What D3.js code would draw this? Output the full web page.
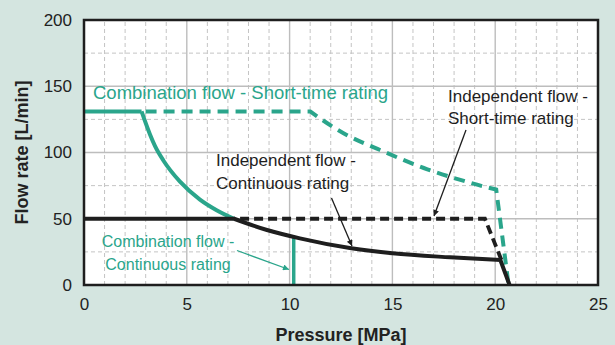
<!DOCTYPE html>
<html>
<head>
<meta charset="utf-8">
<script src="https://cdn.jsdelivr.net/npm/d3@7"></script>
<style>
  body { margin: 0; background: #d4e5e0; }
  svg { display: block; font-family: "Liberation Sans", Arial, sans-serif; }
</style>
</head>
<body>
<svg id="chart"></svg>
<script>
// chart values
const xTicks = [0, 5, 10, 15, 20, 25];
const yTicks = [0, 50, 100, 150, 200];
const xMinor = d3.range(0, 26, 1);
const yMinor = d3.range(0, 201, 25);

// combination flow - short-time rating (teal)
const comboShortSolidX = [0, 2.8];
const comboShortSolidY = [131, 131];
const comboShortFlatX = [2.8, 11];
const comboShortFlatY = [131, 131];
const comboShortCurveX = [11, 12.6, 14.4, 16.7, 18.6, 19.6, 20.05];
const comboShortCurveY = [131, 114.7, 101.9, 87.3, 78, 73.7, 72];
const comboShortDropX = [20.05, 20.65];
const comboShortDropY = [72, 0];

// combination flow - continuous rating (teal)
const comboContCurveX = [2.8, 3.2, 3.45, 3.86, 4.67, 5.64, 6.45, 7.3];
const comboContCurveY = [131, 114, 105, 94, 78, 64.5, 56.5, 50];
const comboContDropX = [10.2, 10.2];
const comboContDropY = [35.5, 0];

// independent flow - continuous rating (black solid)
const indepContFlatX = [0, 7.3];
const indepContFlatY = [50, 50];
const indepContCurveX = [7.3, 8.9, 10.5, 13, 15, 17.8, 20.25];
const indepContCurveY = [50, 41.5, 35.2, 27.7, 23.9, 20.9, 18.9];
const indepContDropX = [20.25, 20.7];
const indepContDropY = [18.9, 0];

// independent flow - short-time rating (black dashed)
const indepShortX = [7.3, 19.5, 20.3];
const indepShortY = [50, 50, 19];

const width = 615, height = 345;
const margin = { top: 20, right: 17, bottom: 60, left: 84 };
const teal = "#2aa58b", ink = "#1e1e1e";

const svg = d3.select("#chart")
  .attr("width", width)
  .attr("height", height)
  .attr("viewBox", [0, 0, width, height]);

const x = d3.scaleLinear([0, 25], [margin.left, width - margin.right]);
const y = d3.scaleLinear([0, 200], [height - margin.bottom, margin.top]);

svg.append("rect")
  .attr("x", x(0)).attr("y", y(200))
  .attr("width", x(25) - x(0)).attr("height", y(0) - y(200))
  .attr("fill", "#fff");

// minor grid (dashed)
svg.append("g")
  .selectAll("line")
  .data(xMinor.filter(d => d % 5))
  .join("line")
    .attr("x1", d => x(d)).attr("x2", d => x(d))
    .attr("y1", y(0)).attr("y2", y(200))
    .attr("stroke", "#c4c4c4").attr("stroke-width", 1).attr("stroke-dasharray", "4,3");
svg.append("g")
  .selectAll("line")
  .data(yMinor.filter(d => d % 50))
  .join("line")
    .attr("y1", d => y(d)).attr("y2", d => y(d))
    .attr("x1", x(0)).attr("x2", x(25))
    .attr("stroke", "#c4c4c4").attr("stroke-width", 1).attr("stroke-dasharray", "4,3");

// major grid (solid)
svg.append("g")
  .selectAll("line")
  .data(xTicks.slice(1, -1))
  .join("line")
    .attr("x1", d => x(d)).attr("x2", d => x(d))
    .attr("y1", y(0)).attr("y2", y(200))
    .attr("stroke", "#bdbdbd").attr("stroke-width", 1.4);
svg.append("g")
  .selectAll("line")
  .data(yTicks.slice(1, -1))
  .join("line")
    .attr("y1", d => y(d)).attr("y2", d => y(d))
    .attr("x1", x(0)).attr("x2", x(25))
    .attr("stroke", "#bdbdbd").attr("stroke-width", 1.4);

// axes
svg.append("g")
  .attr("transform", `translate(0,${y(0)})`)
  .call(d3.axisBottom(x).tickValues(xTicks).tickSize(0).tickPadding(13))
  .call(g => g.select(".domain").remove())
  .call(g => g.selectAll("text").attr("font-size", 17).attr("fill", "#222").attr("font-family", null));

svg.append("g")
  .attr("transform", `translate(${x(0)},0)`)
  .call(d3.axisLeft(y).tickValues(yTicks).tickSize(0).tickPadding(12))
  .call(g => g.select(".domain").remove())
  .call(g => g.selectAll("text").attr("font-size", 17).attr("fill", "#222").attr("font-family", null));

// lines
const pts = (xs, ys) => xs.map((d, i) => [d, ys[i]]);
const lin = d3.line().x(d => x(d[0])).y(d => y(d[1]));
const mono = d3.line().x(d => x(d[0])).y(d => y(d[1])).curve(d3.curveMonotoneX);
const join = (...parts) => parts.map((p, i) => i ? p.replace(/^M/, "L") : p).join("");

const lines = svg.append("g").attr("fill", "none").attr("stroke-linejoin", "round");

lines.append("path")
  .attr("d", lin(pts(comboShortSolidX, comboShortSolidY)))
  .attr("stroke", teal).attr("stroke-width", 4);

lines.append("path")
  .attr("d", join(
    lin(pts(comboShortFlatX, comboShortFlatY)),
    mono(pts(comboShortCurveX, comboShortCurveY)),
    lin(pts(comboShortDropX, comboShortDropY))))
  .attr("stroke", teal).attr("stroke-width", 4)
  .attr("stroke-dasharray", "11,7").attr("stroke-dashoffset", -4)
  .attr("stroke-linejoin", "miter");

lines.append("path")
  .attr("d", mono(pts(comboContCurveX, comboContCurveY)))
  .attr("stroke", teal).attr("stroke-width", 4);

lines.append("path")
  .attr("d", lin(pts(comboContDropX, comboContDropY)))
  .attr("stroke", teal).attr("stroke-width", 3.5);

lines.append("path")
  .attr("d", lin(pts(indepShortX, indepShortY)))
  .attr("stroke", ink).attr("stroke-width", 3.8)
  .attr("stroke-dasharray", "9,5").attr("stroke-dashoffset", -6)
  .attr("stroke-linejoin", "miter");

lines.append("path")
  .attr("d", join(
    lin(pts(indepContFlatX, indepContFlatY)),
    mono(pts(indepContCurveX, indepContCurveY)),
    lin(pts(indepContDropX, indepContDropY))))
  .attr("stroke", ink).attr("stroke-width", 4)
  .attr("stroke-linejoin", "miter");

// frame
svg.append("rect")
  .attr("x", x(0)).attr("y", y(200))
  .attr("width", x(25) - x(0)).attr("height", y(0) - y(200))
  .attr("fill", "none").attr("stroke", ink).attr("stroke-width", 2.5);

// axis titles
svg.append("text")
  .attr("x", (x(0) + x(25)) / 2).attr("y", 341)
  .attr("text-anchor", "middle").attr("font-size", 18).attr("font-weight", "bold")
  .attr("fill", "#222")
  .text("Pressure [MPa]");

svg.append("text")
  .attr("transform", `translate(28,${(y(0) + y(200)) / 2}) rotate(-90)`)
  .attr("text-anchor", "middle").attr("font-size", 18).attr("font-weight", "bold")
  .attr("fill", "#222")
  .text("Flow rate [L/min]");

// annotations
const defs = svg.append("defs");
[["arrowTeal", teal], ["arrowInk", ink]].forEach(([id, c]) => {
  defs.append("marker")
    .attr("id", id).attr("viewBox", "0 0 10 10")
    .attr("refX", 10).attr("refY", 5)
    .attr("markerWidth", 9).attr("markerHeight", 6)
    .attr("markerUnits", "userSpaceOnUse")
    .attr("orient", "auto")
    .append("path").attr("d", "M0,0L10,5L0,10z").attr("fill", c);
});

function label(lines, px, py, color, size, anchor = "start") {
  const t = svg.append("text")
    .attr("x", px).attr("y", py)
    .attr("fill", color).attr("font-size", size).attr("text-anchor", anchor);
  lines.forEach((s, i) => t.append("tspan").attr("x", px).attr("dy", i ? 22.5 : 0).text(s));
}

function arrow(x1, y1, x2, y2, color, id) {
  svg.append("line")
    .attr("x1", x1).attr("y1", y1).attr("x2", x2).attr("y2", y2)
    .attr("stroke", color).attr("stroke-width", 1.3)
    .attr("marker-end", `url(#${id})`);
}

label(["Combination flow - Short-time rating"], 93, 99, teal, 18.5);
label(["Independent flow -", "Short-time rating"], 448, 101.5, ink, 17);
label(["Independent flow -", "Continuous rating"], 216, 166, ink, 17);
label(["Combination flow -", "Continuous rating"], 168, 247, teal, 16, "middle");

arrow(237, 250.5, 289, 269.5, teal, "arrowTeal");
arrow(331.5, 198, 352, 246, ink, "arrowInk");
arrow(466, 130, 434, 216, ink, "arrowInk");
</script>
</body>
</html>
